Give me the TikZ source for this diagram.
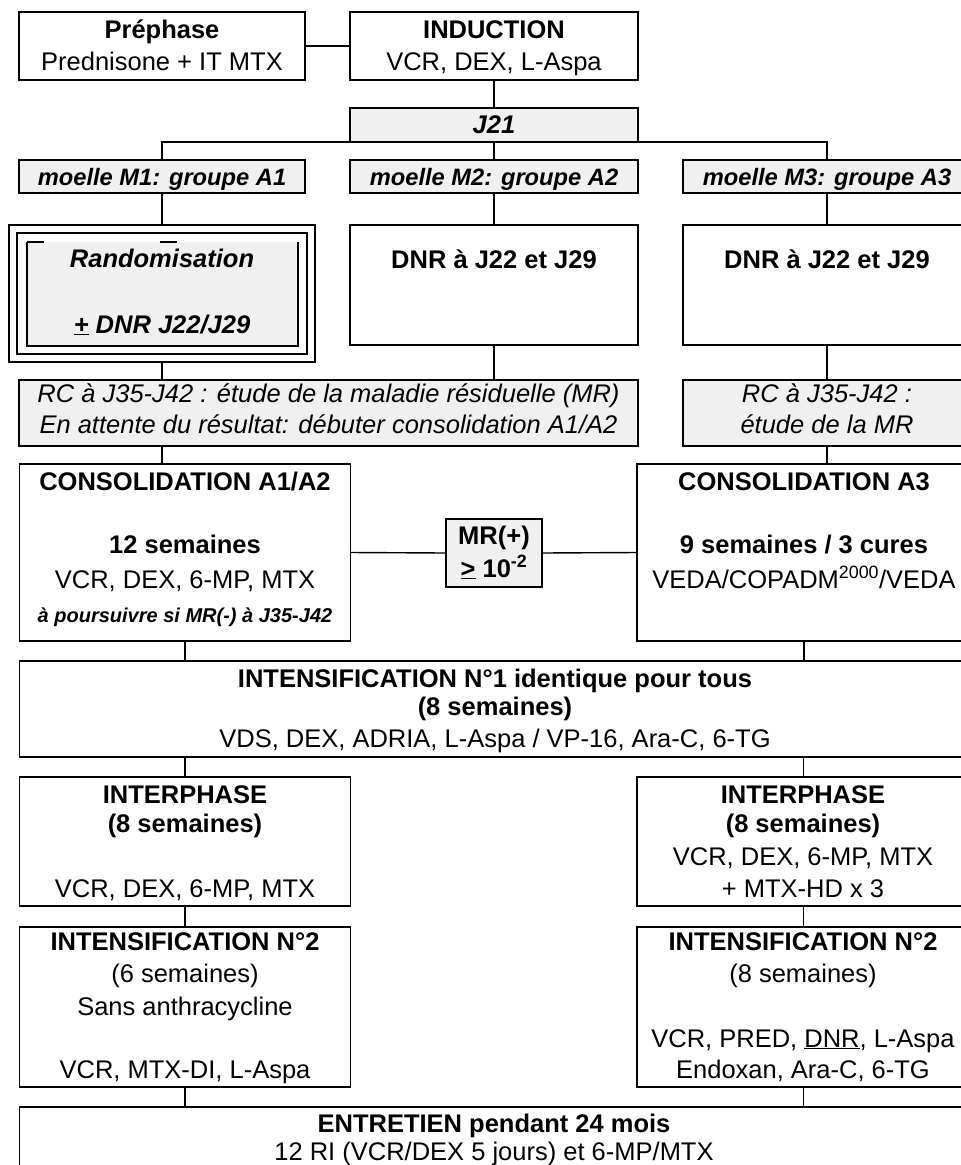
\documentclass[tikz,border=0pt]{standalone}
\usepackage{fontspec}
\setmainfont{Liberation Sans}
\newcommand\mkbox[6][]{\node[boxst,#1,anchor=north west,minimum width={#5pt-#3pt},minimum height={#6pt-#4pt}] (#2) at (#3,#4) {};}
\tikzset{
  boxst/.style={draw=black,line width=1.4pt,fill=white,inner sep=0pt,outer sep=0pt},
  grayst/.style={fill=gray!12},
  conn/.style={draw=black,line width=1.4pt},
  tx/.style={anchor=base,inner sep=0pt,font=\fontsize{25.5}{30}\selectfont},
  tb/.style={tx,font=\fontsize{25.5}{30}\selectfont\bfseries},
  tbi/.style={tx,font=\fontsize{25.5}{30}\selectfont\bfseries\itshape},
  tmo/.style={tx,font=\fontsize{23.7}{28}\selectfont\bfseries\itshape},
  ti/.style={tx,font=\fontsize{25.5}{30}\selectfont\itshape},
  tsm/.style={tx,font=\fontsize{20}{24}\selectfont\bfseries\itshape},
}
\begin{document}
\begin{tikzpicture}[x=1pt,y=-1pt]
\useasboundingbox (0,0) rectangle (961,1165);
\clip (0,0) rectangle (961,1165);
% boxes
\mkbox{prephase}{19}{12}{305}{80}
\mkbox{induction}{350}{12}{638}{80}
\mkbox[grayst]{j21}{350}{108}{638}{142}
\mkbox[grayst]{m1}{19}{160}{305}{193}
\mkbox[grayst]{m2}{350}{160}{638}{193}
\mkbox[grayst]{m3}{683}{160}{971}{193}
\mkbox[line width=1.2pt]{rando}{9}{225}{315}{362}
\draw[line width=1.2pt] (17,233) rectangle (307,354);
\fill[gray!12] (27,242) rectangle (298,346);
\draw[line width=1.4pt] (27,242) -- (27,346) -- (298,346) -- (298,242);
\draw[line width=1.4pt] (27,242) -- (44,242) (160,242) -- (177,242);
\mkbox{dnr2}{350}{225}{638}{345}
\mkbox{dnr3}{683}{225}{971}{345}
\mkbox[grayst]{rc12}{19}{380}{638}{446}
\mkbox[grayst]{rc3}{683}{380}{971}{446}
\mkbox{cons12}{19.6}{464}{350.5}{641}
\mkbox[grayst]{mr}{446}{519}{542}{587}
\mkbox{cons3}{637}{464}{971}{641}
\mkbox{int1}{19.6}{661}{970}{757}
\mkbox{inter1}{19.6}{777}{350.5}{906}
\mkbox{inter2}{637}{777}{970}{906}
\mkbox{intb1}{19.6}{927}{350.5}{1087}
\mkbox{intb2}{637}{927}{970}{1087}
\mkbox{ent}{19.6}{1107}{968}{1220}
% connectors
\draw[conn] (prephase.east) -- (induction.west);
\draw[conn] (induction.south) -- (j21.north);
\draw[conn] (j21.south) -- (m2.north);
\draw[conn] (m1.north) -- (m1.north |- j21.south) -- (m3.north |- j21.south) -- (m3.north);
\draw[conn] (m1.south) -- (rando.north);
\draw[conn] (m2.south) -- (dnr2.north);
\draw[conn] (m3.south) -- (dnr3.north);
\draw[conn] (rando.south) -- (rando.south |- rc12.north);
\draw[conn] (dnr2.south) -- (dnr2.south |- rc12.north);
\draw[conn] (dnr3.south) -- (rc3.north);
\draw[conn] (rc12.south -| rando.south) -- (rando.south |- cons12.north);
\draw[conn] (rc3.south) -- (rc3.south |- cons3.north);
\draw[conn] (cons12.east) -- (mr.west);
\draw[conn] (mr.east) -- (cons3.west);
\draw[conn] (cons12.south) -- (cons12.south |- int1.north);
\draw[conn] (cons3.south) -- (cons3.south |- int1.north);
\draw[conn] (inter1.north |- int1.south) -- (inter1.north);
\draw[conn] (inter2.north |- int1.south) -- (inter2.north);
\draw[conn] (inter1.south) -- (intb1.north);
\draw[conn] (inter2.south) -- (intb2.north);
\draw[conn] (intb1.south) -- (intb1.south |- ent.north);
\draw[conn] (intb2.south) -- (intb2.south |- ent.north);
% texts
\node[tb] (t1) at (162,38) {Préphase};
\node[tx] (t2) at (162,70) {Prednisone + IT MTX};
\node[tb] (t3) at (494,38) {INDUCTION};
\node[tx] (t4) at (494,70) {VCR, DEX, L-Aspa};
\node[tbi] (t5) at (494,133) {J21};
\node[tmo] (t6) at (162,185) {moelle M1: groupe A1};
\node[tmo] (t7) at (494,185) {moelle M2: groupe A2};
\node[tmo] (t8) at (827,185) {moelle M3: groupe A3};
\node[tbi] (t9) at (162,267) {Randomisation};
\node[tbi] (t10) at (162,333) {\underline{+} DNR J22/J29};
\node[tb] (t11) at (494,268) {DNR à J22 et J29};
\node[tb] (t12) at (827,268) {DNR à J22 et J29};
\node[ti] (t13) at (328.5,402) {RC à J35-J42 : étude de la maladie résiduelle (MR)};
\node[ti] (t14) at (328.5,433) {En attente du résultat: débuter consolidation A1/A2};
\node[ti] (t15) at (827,402) {RC à J35-J42 :};
\node[ti] (t16) at (827,433) {étude de la MR};
\node[tb] (t17) at (185,490) {CONSOLIDATION A1/A2};
\node[tb] (t18) at (185,553) {12 semaines};
\node[tx] (t19) at (185,588) {VCR, DEX, 6-MP, MTX};
\node[tsm] (t20) at (185,622) {à poursuivre si MR(-) à J35-J42};
\node[tb] (t21) at (494,544) {MR(+)};
\node[tb] (t22) at (494,577) {\underline{>} 10\textsuperscript{-2}};
\node[tb] (t23) at (804,490) {CONSOLIDATION A3};
\node[tb] (t24) at (804,553) {9 semaines / 3 cures};
\node[tx] (t25) at (804,588) {VEDA/COPADM\textsuperscript{2000}/VEDA};
\node[tb] (t26) at (495,687) {INTENSIFICATION N°1 identique pour tous};
\node[tb] (t27) at (495,715) {(8 semaines)};
\node[tx] (t28) at (495,747) {VDS, DEX, ADRIA, L-Aspa / VP-16, Ara-C, 6-TG};
\node[tb] (t29) at (185,803) {INTERPHASE};
\node[tb] (t30) at (185,832) {(8 semaines)};
\node[tx] (t31) at (185,897) {VCR, DEX, 6-MP, MTX};
\node[tb] (t32) at (803,803) {INTERPHASE};
\node[tb] (t33) at (803,832) {(8 semaines)};
\node[tx] (t34) at (803,865) {VCR, DEX, 6-MP, MTX};
\node[tx] (t35) at (803,897) {+ MTX-HD x 3};
\node[tb] (t36) at (185,950) {INTENSIFICATION N°2};
\node[tx] (t37) at (185,982) {(6 semaines)};
\node[tx] (t38) at (185,1015) {Sans anthracycline};
\node[tx] (t39) at (185,1078) {VCR, MTX-DI, L-Aspa};
\node[tb] (t40) at (803,950) {INTENSIFICATION N°2};
\node[tx] (t41) at (803,982) {(8 semaines)};
\node[tx] (t42) at (803,1047) {VCR, PRED, \underline{DNR}, L-Aspa};
\node[tx] (t43) at (803,1078) {Endoxan, Ara-C, 6-TG};
\node[tb] (t44) at (494,1132) {ENTRETIEN pendant 24 mois};
\node[tx] (t45) at (494,1160) {12 RI (VCR/DEX 5 jours) et 6-MP/MTX};
\end{tikzpicture}
\end{document}
